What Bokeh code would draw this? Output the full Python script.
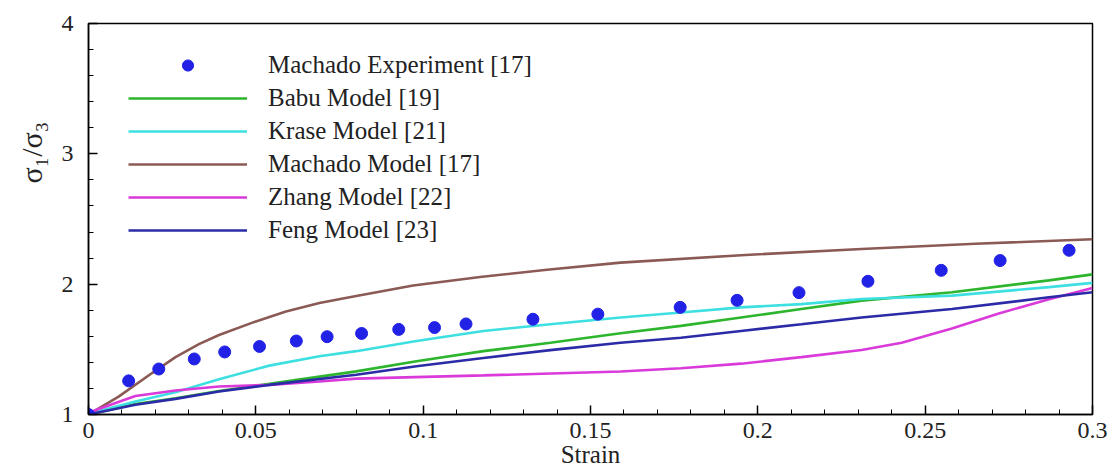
import numpy as np
from bokeh.plotting import figure
from bokeh.models import (Range1d, FixedTicker, Legend, LegendItem, Title,
                          CustomJSTickFormatter)
from bokeh.embed import file_html
from bokeh.resources import INLINE

# ---------------- data ----------------
exp_strain = [0, 0.012, 0.021, 0.0316, 0.0407, 0.0511, 0.0621, 0.0713, 0.0816,
              0.0927, 0.1034, 0.1128, 0.1328, 0.1522, 0.1768, 0.1938, 0.2123,
              0.2329, 0.2548, 0.2724, 0.293]
exp_ratio = [1.0, 1.258, 1.349, 1.426, 1.48, 1.522, 1.564, 1.597, 1.622,
             1.653, 1.667, 1.695, 1.731, 1.77, 1.822, 1.876, 1.935,
             2.022, 2.106, 2.181, 2.26]

babu_x = [0, 0.014, 0.026, 0.039, 0.054, 0.080, 0.098, 0.118, 0.138, 0.159,
          0.177, 0.195, 0.213, 0.231, 0.258, 0.287, 0.3]
babu_y = [1, 1.08, 1.125, 1.18, 1.235, 1.331, 1.409, 1.486, 1.55, 1.624,
          1.68, 1.744, 1.809, 1.874, 1.938, 2.029, 2.075]

krase_x = [0, 0.002, 0.014, 0.026, 0.039, 0.054, 0.069, 0.080, 0.098, 0.118,
           0.138, 0.159, 0.177, 0.195, 0.213, 0.231, 0.258, 0.287, 0.3]
krase_y = [1, 1.02, 1.10, 1.17, 1.27, 1.375, 1.447, 1.486, 1.564, 1.641,
           1.692, 1.744, 1.783, 1.822, 1.847, 1.886, 1.912, 1.977, 2.01]

machado_x = [0, 0.009, 0.019, 0.026, 0.033, 0.039, 0.049, 0.059, 0.069, 0.078,
             0.097, 0.117, 0.137, 0.159, 0.195, 0.231, 0.265, 0.3]
machado_y = [1, 1.137, 1.318, 1.44, 1.54, 1.61, 1.705, 1.79, 1.855, 1.9,
             1.99, 2.055, 2.11, 2.165, 2.222, 2.27, 2.31, 2.345]

zhang_x = [0, 0.002, 0.014, 0.026, 0.039, 0.054, 0.069, 0.080, 0.118, 0.159,
           0.177, 0.195, 0.213, 0.231, 0.243, 0.258, 0.272, 0.287, 0.3]
zhang_y = [1, 1.033, 1.142, 1.184, 1.215, 1.227, 1.253, 1.275, 1.3, 1.33,
           1.355, 1.39, 1.44, 1.495, 1.55, 1.66, 1.775, 1.885, 1.97]

feng_x = [0, 0.014, 0.026, 0.039, 0.054, 0.080, 0.098, 0.118, 0.138, 0.159,
          0.177, 0.195, 0.213, 0.231, 0.258, 0.287, 0.3]
feng_y = [1, 1.075, 1.12, 1.176, 1.227, 1.305, 1.37, 1.434, 1.494, 1.55,
          1.589, 1.641, 1.692, 1.744, 1.809, 1.899, 1.938]

x_ticks = [0, 0.05, 0.1, 0.15, 0.2, 0.25, 0.3]
y_ticks = [1, 2, 3, 4]

labels = ["Machado Experiment [17]", "Babu Model [19]", "Krase Model [21]",
          "Machado Model [17]", "Zhang Model [22]", "Feng Model [23]"]

# ---------------- figure ----------------
FONT = "Liberation Serif"
p = figure(width=1108, height=470, output_backend="svg", toolbar_location=None,
           x_range=Range1d(0, 0.3), y_range=Range1d(1, 4),
           min_border_left=88, min_border_right=16, min_border_top=23,
           min_border_bottom=50)
p.background_fill_color = "white"
p.border_fill_color = "white"
p.outline_line_color = "black"
p.outline_line_width = 1.5
p.xgrid.visible = False
p.ygrid.visible = False

lw = 2.6
r_babu = p.line(babu_x, babu_y, line_color="#2db52d", line_width=lw)
r_krase = p.line(krase_x, krase_y, line_color="#3ddfe0", line_width=lw)
r_mach = p.line(machado_x, machado_y, line_color="#8c5a55", line_width=lw)
r_zhang = p.line(zhang_x, zhang_y, line_color="#d93ad9", line_width=lw)
r_feng = p.line(feng_x, feng_y, line_color="#2b2ba8", line_width=lw)
r_exp = p.scatter(exp_strain, exp_ratio, size=12, marker="circle",
                  fill_color="#2222e6", line_color="#2222e6")

# axes
minor_x = [round(0.01 * i, 2) for i in range(31)]
minor_y = [float(v) for v in np.round(np.arange(1, 4.01, 0.2), 2)]
p.xaxis.ticker = FixedTicker(ticks=x_ticks, minor_ticks=minor_x)
p.yaxis.ticker = FixedTicker(ticks=y_ticks, minor_ticks=minor_y)
p.xaxis.formatter = CustomJSTickFormatter(
    code="return String(Math.round(tick*100)/100);")

for ax in (p.xaxis[0], p.yaxis[0]):
    ax.axis_line_color = "black"
    ax.axis_line_width = 1.5
    ax.major_tick_in = 9
    ax.major_tick_out = 0
    ax.minor_tick_in = 5
    ax.minor_tick_out = 0
    ax.major_tick_line_color = "black"
    ax.major_tick_line_width = 1.5
    ax.minor_tick_line_color = "black"
    ax.minor_tick_line_width = 1
    ax.major_label_text_font = FONT
    ax.major_label_text_font_size = "24px"
    ax.major_label_text_color = "#222222"

p.xaxis.major_label_standoff = 8
p.yaxis.major_label_standoff = 15
p.xaxis.axis_label = "Strain"
p.xaxis.axis_label_text_font = FONT
p.xaxis.axis_label_text_font_size = "25px"
p.xaxis.axis_label_text_font_style = "normal"
p.xaxis.axis_label_text_color = "#222222"
p.xaxis.axis_label_standoff = 0

ytitle = Title(text="σ₁/σ₃", align="left", offset=231,
               text_font=FONT, text_font_size="30px",
               text_font_style="normal", text_color="#222222", standoff=22)
p.add_layout(ytitle, "left")

legend = Legend(items=[
    LegendItem(label=labels[0], renderers=[r_exp]),
    LegendItem(label=labels[1], renderers=[r_babu]),
    LegendItem(label=labels[2], renderers=[r_krase]),
    LegendItem(label=labels[3], renderers=[r_mach]),
    LegendItem(label=labels[4], renderers=[r_zhang]),
    LegendItem(label=labels[5], renderers=[r_feng]),
], location=(40, 170))
legend.glyph_width = 119
legend.glyph_height = 28
legend.label_height = 28
legend.spacing = 5
legend.padding = 0
legend.margin = 0
legend.label_standoff = 21
legend.label_text_font = FONT
legend.label_text_font_size = "25px"
legend.label_text_color = "#222222"
legend.border_line_color = None
legend.background_fill_alpha = 0
p.add_layout(legend)

open("out.html", "w").write(file_html(p, INLINE))
